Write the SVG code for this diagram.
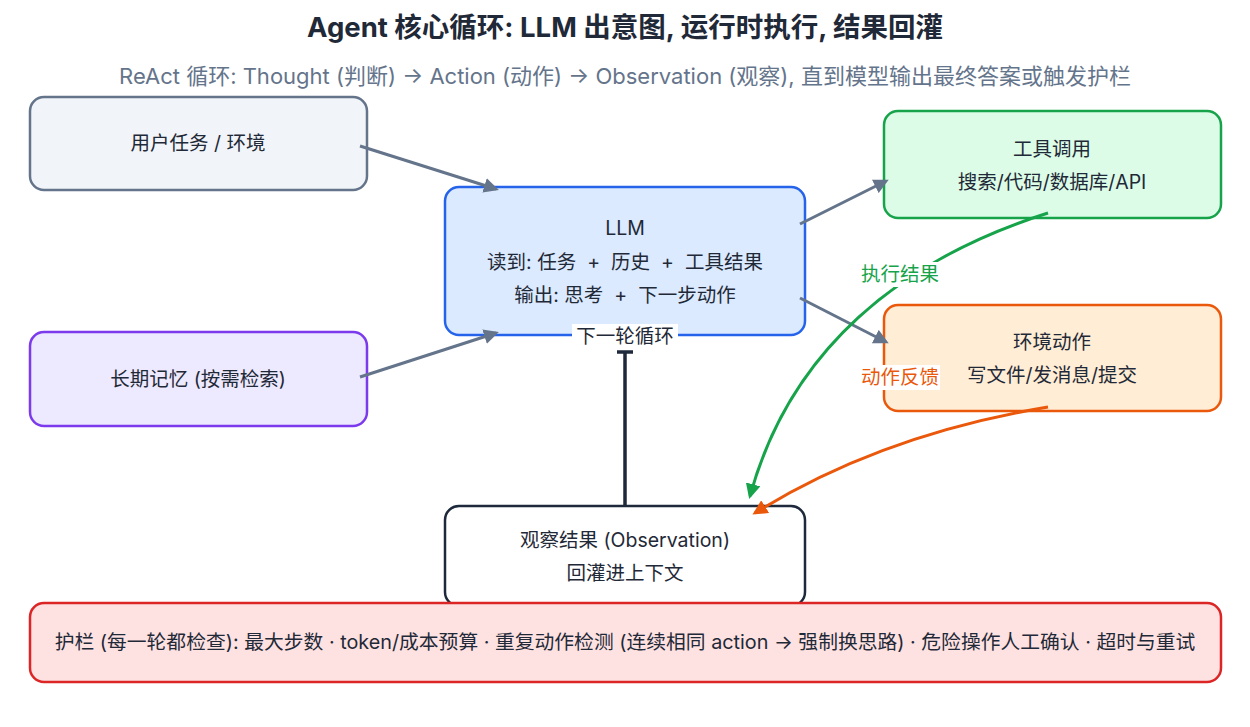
<svg xmlns="http://www.w3.org/2000/svg" width="1250" height="727" viewBox="0 0 1250 727">
<style>
text{font-family:Inter,"Noto Sans CJK SC",sans-serif;fill:#1f2937;font-size:19.5px;text-anchor:middle}
.box{stroke-width:2.5}
.g{stroke:#64748b;stroke-width:3;fill:none}
</style>
<defs>
<marker id="ag" viewBox="0 0 10 10" refX="8" refY="5" markerWidth="5" markerHeight="5" orient="auto"><path d="M0,0L10,5L0,10z" fill="#64748b"/></marker>
<marker id="agr" viewBox="0 0 10 10" refX="8" refY="5" markerWidth="5" markerHeight="5" orient="auto"><path d="M0,0L10,5L0,10z" fill="#16a34a"/></marker>
<marker id="aor" viewBox="0 0 10 10" refX="8" refY="5" markerWidth="5" markerHeight="5" orient="auto"><path d="M0,0L10,5L0,10z" fill="#ea580c"/></marker>
</defs>
<rect width="1250" height="727" fill="#fff"/>
<text x="625" y="37" style="font-size:27.5px;font-weight:bold">Agent 核心循环: LLM 出意图, 运行时执行, 结果回灌</text>
<text x="625" y="84" style="font-size:22px;fill:#64748b">ReAct 循环: Thought (判断) → Action (动作) → Observation (观察), 直到模型输出最终答案或触发护栏</text>
<g id="user"><rect class="box" x="30" y="97" width="337" height="93" rx="14" fill="#f1f5f9" stroke="#64748b"/><text x="198" y="150">用户任务 / 环境</text></g>
<g id="memory"><rect class="box" x="30" y="332" width="337" height="94" rx="14" fill="#ede9fe" stroke="#7c3aed"/><text x="198" y="386">长期记忆 (按需检索)</text></g>
<g id="llm"><rect class="box" x="445" y="187" width="360" height="148" rx="14" fill="#dbeafe" stroke="#2563eb"/>
<text x="625" y="235">LLM</text><text x="625" y="269" xml:space="preserve">读到: 任务  +  历史  +  工具结果</text><text x="625" y="302" xml:space="preserve">输出: 思考  +  下一步动作</text></g>
<g id="tools"><rect class="box" x="884" y="111" width="337" height="107" rx="14" fill="#dcfce7" stroke="#16a34a"/><text x="1052" y="156">工具调用</text><text x="1052" y="189">搜索/代码/数据库/API</text></g>
<g id="env"><rect class="box" x="884" y="305" width="337" height="106" rx="14" fill="#ffedd5" stroke="#ea580c"/><text x="1052" y="349">环境动作</text><text x="1052" y="382">写文件/发消息/提交</text></g>
<g id="obs"><rect class="box" x="445" y="506" width="360" height="100" rx="14" fill="#fff" stroke="#1e293b"/><text x="625" y="547">观察结果 (Observation)</text><text x="625" y="580">回灌进上下文</text></g>
<g id="guard"><rect class="box" x="30" y="603" width="1191" height="79" rx="14" fill="#fee2e2" stroke="#dc2626"/><text x="625" y="649" style="font-size:19.8px">护栏 (每一轮都检查): 最大步数 · token/成本预算 · 重复动作检测 (连续相同 action → 强制换思路) · 危险操作人工确认 · 超时与重试</text></g>
<g id="connectors">
<line class="g" x1="360" y1="146" x2="496" y2="189" marker-end="url(#ag)"/>
<line class="g" x1="360" y1="377" x2="496" y2="333" marker-end="url(#ag)"/>
<line class="g" x1="800" y1="224" x2="886" y2="181" marker-end="url(#ag)"/>
<line class="g" x1="800" y1="298" x2="886" y2="342" marker-end="url(#ag)"/>
<line x1="625" y1="507" x2="625" y2="352" stroke="#1e293b" stroke-width="3.5"/>
<line x1="617" y1="352" x2="633" y2="352" stroke="#1e293b" stroke-width="3.5"/>
<rect x="572" y="324" width="106" height="25" fill="#fff"/><text x="625" y="343">下一轮循环</text>
<path d="M1048,213 C900,260 790,350 750,496" stroke="#16a34a" stroke-width="3" fill="none" marker-end="url(#agr)"/>
<path d="M1048,407 C940,425 840,460 755,513" stroke="#ea580c" stroke-width="3" fill="none" marker-end="url(#aor)"/>
<rect x="860" y="262" width="80" height="25" fill="#fff"/>
<text x="900" y="281" style="fill:#16a34a">执行结果</text>
<rect x="860" y="365" width="80" height="25" fill="#fff"/>
<text x="900" y="384" style="fill:#ea580c">动作反馈</text>
</g>
</svg>
